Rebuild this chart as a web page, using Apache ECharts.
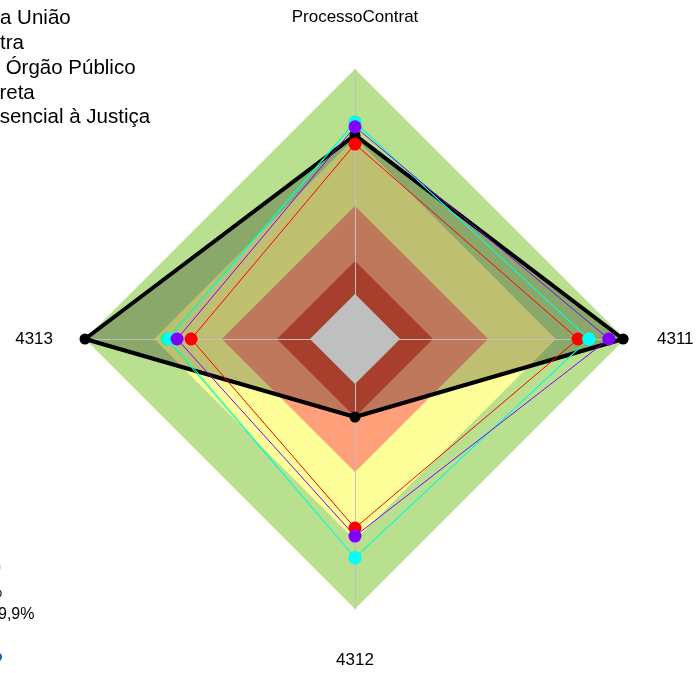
<!DOCTYPE html>
<html>
<head>
<meta charset="utf-8">
<script src="https://cdn.jsdelivr.net/npm/echarts@6/dist/echarts.min.js"></script>
<style>
  html, body { margin: 0; padding: 0; background: #fff; }
  #chart { width: 696px; height: 673px; }
</style>
</head>
<body>
<div id="chart"></div>
<script>
// Radar axes, counter-clockwise from the top
var indicators = ['ProcessoContrat', '4313', '4312', '4311'];
var axisMax = 100;

// Background bands (outer limit of each band, %)
var bandLimits = [100, 74.4, 49.3, 28.9, 16.7];
var bandColors = ['#B9E08E', '#FFFF99', '#FFA07A', '#E0553B', '#FFFFFF'];

// Groups compared (values in indicator order)
var seriesNames = [
  'Entidade da União',
  'Outra',
  'Outro Órgão Público',
  'Administração Direta',
  'Função Essencial à Justiça'
];
var valuesUniao    = [75.5, 100, 28.9, 99.3];
var valuesOutra    = [72.2, 60.7, 70.0, 82.6];
var valuesOrgao    = [80.4, 69.6, 81.0, 86.5];
var valuesDireta   = [80.1, 68.9, 81.1, 86.7];
var valuesJustica  = [78.6, 65.9, 73.0, 94.0];
var seriesValues = [valuesUniao, valuesOutra, valuesOrgao, valuesDireta, valuesJustica];
var seriesColors = ['#000000', '#FF0000', '#00FF80', '#00FFFF', '#8000FF'];

var FONT = 'Liberation Sans, Arial, sans-serif';

var chart = echarts.init(document.getElementById('chart'), null, { renderer: 'canvas' });

var series = [];

// Bands: filled polygons, biggest first so smaller ones sit on top
series.push({
  type: 'radar',
  name: 'faixas',
  z: 0,
  silent: true,
  symbol: 'none',
  data: bandLimits.map(function (v, i) {
    return {
      value: indicators.map(function () { return v; }),
      lineStyle: { width: 0, opacity: 0 },
      areaStyle: { color: bandColors[i], opacity: 1 }
    };
  })
});

// Shaded area of the highlighted group (under the spokes)
series.push({
  type: 'radar',
  name: seriesNames[0] + ' (área)',
  z: 1,
  silent: true,
  symbol: 'none',
  data: [{
    value: seriesValues[0],
    lineStyle: { width: 0, opacity: 0 },
    areaStyle: { color: '#000000', opacity: 0.25 }
  }]
});

// Lines and points of every group
seriesNames.forEach(function (name, i) {
  var isMain = i === 0;
  series.push({
    type: 'radar',
    name: name,
    z: 3,
    symbol: 'circle',
    symbolSize: isMain ? 11 : 13,
    itemStyle: { color: seriesColors[i] },
    lineStyle: { color: seriesColors[i], width: isMain ? 4 : 1 },
    data: [{ value: seriesValues[i], name: name }]
  });
});

// One legend block per group so each label can sit at its own offset
var legendLeft = [-133, -62.3, -86.3, -190.5, -133.3];
var legends = seriesNames.map(function (name, i) {
  return {
    data: [name],
    left: legendLeft[i],
    top: 3 + 24.8 * i,
    itemWidth: 25,
    itemHeight: 14,
    icon: 'rect',
    selectedMode: false,
    textStyle: { fontSize: 20.5, color: '#000', fontFamily: FONT }
  };
});

var option = {
  animation: false,
  backgroundColor: '#ffffff',
  legend: legends,
  radar: {
    z: 2,
    center: [355, 339],
    radius: 270,
    startAngle: 90,
    shape: 'polygon',
    splitNumber: 1,
    indicator: indicators.map(function (n) { return { name: n, min: 0, max: axisMax }; }),
    nameGap: 32,
    axisName: {
      color: '#000',
      fontSize: 17,
      fontFamily: FONT,
      padding: [11, 0, 11, 0]
    },
    axisLine: { lineStyle: { color: '#C0C0C0', width: 1 } },
    splitLine: { show: false },
    splitArea: { show: false },
    axisTick: { show: false },
    axisLabel: { show: false }
  },
  graphic: [
    { type: 'circle', shape: { cx: -3, cy: 567, r: 4 }, style: { fill: '#9FE8F0' } },
    { type: 'text', left: -12, top: 585, style: { text: '%', fontSize: 16, fill: '#000', fontFamily: FONT } },
    { type: 'text', left: -2, top: 607, style: { text: '9,9%', fontSize: 16, fill: '#000', fontFamily: FONT } },
    { type: 'circle', shape: { cx: -3, cy: 657, r: 5 }, style: { fill: '#1060C0' } }
  ],
  series: series
};

chart.setOption(option);
</script>
</body>
</html>
